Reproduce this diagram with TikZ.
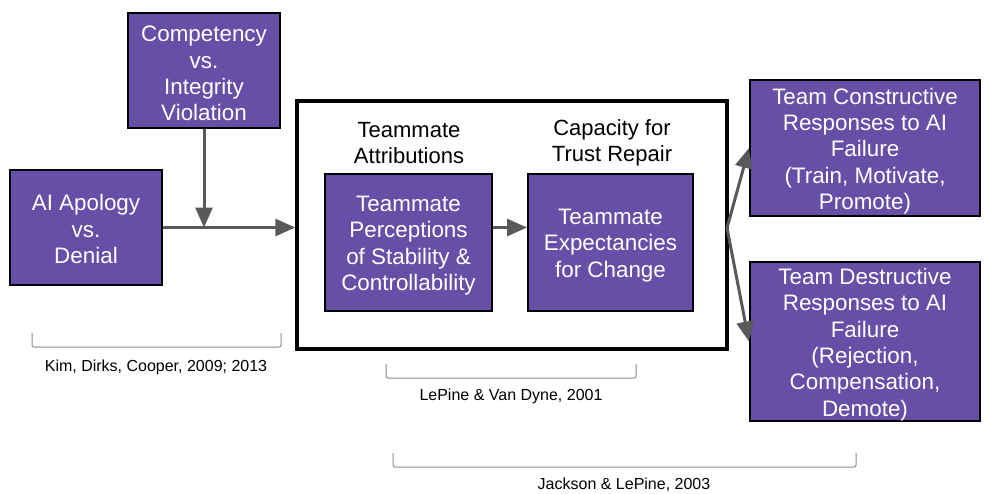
\documentclass[tikz,border=0pt]{standalone}
\usepackage{fontspec}
\setmainfont{Liberation Sans}
\usetikzlibrary{arrows.meta,calc}
\definecolor{boxpurple}{HTML}{674EA7}
\definecolor{arrowgray}{HTML}{595959}
\definecolor{brkgray}{HTML}{8C8C8C}
\begin{document}
\begin{tikzpicture}[x=1pt,y=-1pt,
  pbox/.style={draw=black,line width=2pt,fill=boxpurple,inner sep=0pt},
  ptext/.style={text=white,align=center,font=\fontsize{22.4}{26.4}\selectfont,inner sep=0pt},
  header/.style={align=center,font=\fontsize{22}{26.4}\selectfont,inner sep=0pt},
  cite/.style={font=\fontsize{16}{19}\selectfont,inner sep=0pt},
  conn/.style={draw=arrowgray,line width=3pt,-{Triangle[length=20pt,width=17pt]}},
  brk/.style={draw=brkgray,line width=1pt,rounded corners=2pt}]
\useasboundingbox (0,0) rectangle (986,493);
% big container
\node[draw=black,line width=3.5pt,minimum width=430pt,minimum height=248pt,inner sep=0pt] (big) at (512,225) {};
% boxes
\node[pbox,minimum width=152pt,minimum height=115pt] (comp) at (204,70.5) {};
\node[ptext] (compt) at ([yshift=-3pt]comp.center) {Competency\\vs.\\Integrity\\Violation};
\node[pbox,minimum width=152pt,minimum height=115pt] (apol) at (86,227.5) {};
\node[ptext] (apolt) at ([yshift=-1.5pt]apol.center) {AI Apology\\vs.\\Denial};
\node[pbox,minimum width=167pt,minimum height=137pt] (perc) at (408.5,242.5) {};
\node[ptext] (perct) at ([yshift=-3pt]perc.center) {Teammate\\Perceptions\\of Stability \&\\Controllability};
\node[pbox,minimum width=165pt,minimum height=137pt] (expc) at (610.5,242.5) {};
\node[ptext] (expct) at ([yshift=-3pt]expc.center) {Teammate\\Expectancies\\for Change};
\node[pbox,minimum width=230pt,minimum height=136pt] (cons) at (865,148) {};
\node[ptext] (const) at ([yshift=-3pt]cons.center) {Team Constructive\\Responses to AI\\Failure\\(Train, Motivate,\\Promote)};
\node[pbox,minimum width=230pt,minimum height=159pt] (dest) at (865,341.5) {};
\node[ptext] (destt) at ([yshift=-3pt]dest.center) {Team Destructive\\Responses to AI\\Failure\\(Rejection,\\Compensation,\\Demote)};
% headers
\node[header] (hatt) at (409,143) {Teammate\\Attributions};
\node[header] (hcap) at (612,143) {Capacity for\\Trust Repair};
% connectors
\coordinate (join) at (comp.south |- apol.east);
\draw[conn] (apol.east) -- (apol.east -| big.west);
\draw[conn] (comp.south) -- (join);
\draw[conn] (perc.east |- apol.east) -- (expc.west |- apol.east);
\coordinate (fork) at (727,228);
\draw[conn] (fork) -- (cons.west);
\draw[conn] (fork) -- (dest.west);
% brackets
\draw[brk] (32,333) -- (32,347) -- (281,347) -- (281,333);
\node[cite] (ckim) at (156,367) {Kim, Dirks, Cooper, 2009; 2013};
\draw[brk] (386,364) -- (386,378) -- (636,378) -- (636,364);
\node[cite] (clep) at (511,396) {LePine \& Van Dyne, 2001};
\draw[brk] (393,453) -- (393,467) -- (856,467) -- (856,453);
\node[cite] (cjack) at (624,485) {Jackson \& LePine, 2003};
\end{tikzpicture}
\end{document}
